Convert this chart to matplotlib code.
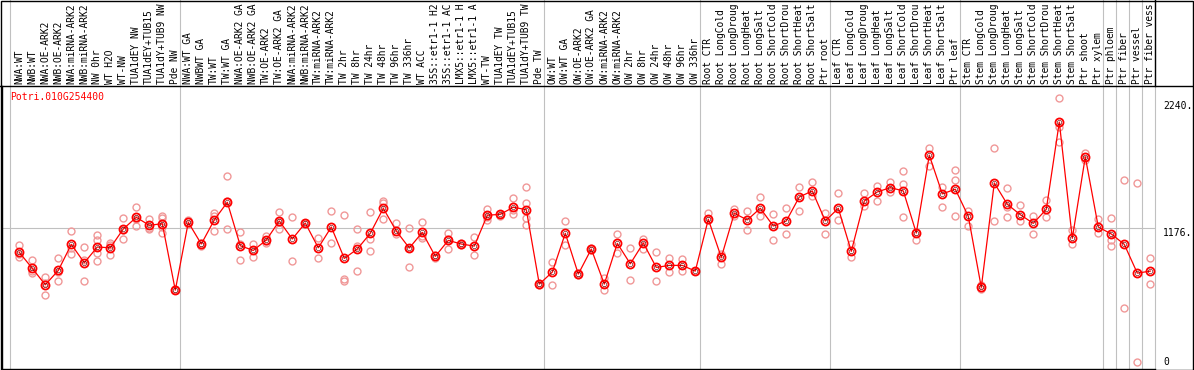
import matplotlib
matplotlib.use("Agg")
import matplotlib.pyplot as plt
from matplotlib.lines import Line2D
from matplotlib.patches import Rectangle

gene = "Potri.010G254400"

# labels as printed in the header (cut to 14 characters there)
labels = [
    "NWA:WT", "NWB:WT", "NWA:OE-ARK2", "NWB:OE-ARK2", "NWA:miRNA-ARK2",
    "NWB:miRNA-ARK2", "NW 0hr", "WT H2O", "WT-NW", "TUA1dEY NW",
    "TUA1dEY+TUB15", "TUA1dY+TUB9 NW", "Pde NW",
    "NWA:WT GA", "NWBWT GA", "TW:WT", "TW:WT GA", "NWA:OE-ARK2 GA",
    "NWB:OE-ARK2 GA", "TW:OE-ARK2", "TW:OE-ARK2 GA", "NWA:miRNA-ARK2",
    "NWB:miRNA-ARK2", "TW:miRNA-ARK2", "TW:miRNA-ARK2", "TW 2hr", "TW 8hr",
    "TW 24hr", "TW 48hr", "TW 96hr", "TW 336hr", "WT ACC", "35S::etr1-1 H2",
    "35S::etr1-1 AC", "LMX5::etr1-1 H", "LMX5::etr1-1 A", "WT-TW",
    "TUA1dEY TW", "TUA1dEY+TUB15", "TUA1dY+TUB9 TW", "Pde TW",
    "OW:WT", "OW:WT GA", "OW:OE-ARK2", "OW:OE-ARK2 GA", "OW:miRNA-ARK2",
    "OW:miRNA-ARK2", "OW 2hr", "OW 8hr", "OW 24hr", "OW 48hr", "OW 96hr",
    "OW 336hr",
    "Root CTR", "Root LongCold", "Root LongDroug", "Root LongHeat",
    "Root LongSalt", "Root ShortCold", "Root ShortDrou", "Root ShortHeat",
    "Root ShortSalt", "Ptr root",
    "Leaf CTR", "Leaf LongCold", "Leaf LongDroug", "Leaf LongHeat",
    "Leaf LongSalt", "Leaf ShortCold", "Leaf ShortDrou", "Leaf ShortHeat",
    "Leaf ShortSalt", "Ptr leaf",
    "Stem CTR", "Stem LongCold", "Stem LongDroug", "Stem LongHeat",
    "Stem LongSalt", "Stem ShortCold", "Stem ShortDrou", "Stem ShortHeat",
    "Stem ShortSalt", "Ptr shoot", "Ptr xylem",
    "Ptr phloem", "Ptr fiber", "Ptr vessel", "Ptr fiber vess",
]

means = [
    960, 820, 676, 802, 1030, 869, 1007, 1000, 1165, 1267, 1197, 1211, 629,
    1223, 1033, 1244, 1399, 1018, 977, 1068, 1235, 1077, 1217, 1000, 1182,
    907, 989, 1127, 1346, 1147, 998, 1135, 925, 1065, 1033, 1015, 1285, 1293,
    1355, 1334, 682,
    787, 1127, 770, 989, 682, 1039, 860, 1042, 828, 846, 846, 796,
    1250, 916, 1302, 1244, 1346, 1191, 1235, 1445, 1498, 1235,
    1346, 969, 1410, 1489, 1527, 1498, 1129, 1811, 1472, 1513,
    1276, 653, 1568, 1381, 1290, 1214, 1337, 2101, 1083, 1796, 1182,
    1121, 1030, 778, 796,
]

reps = [
    [1024, 921, 950], [890, 776, 795], [746, 591, 690], [907, 708, 790],
    [1147, 942, 1000], [1004, 708, 895], [1112, 1068, 957, 881],
    [1039, 936, 1025], [1258, 1077, 1160], [1358, 1191, 1250],
    [1252, 1167, 1175], [1279, 1261, 1127, 1180], [629, 640],
    [1244, 1210], [1020, 1045], [1302, 1147, 1280], [1627, 1162, 1410],
    [1135, 890, 1030], [1033, 916, 985], [1106, 1040, 1060],
    [1314, 1162, 1230], [1270, 881], [1220, 1212], [1086, 907],
    [1323, 1039], [1285, 726, 711], [1162, 1012, 793], [1314, 1077, 974],
    [1413, 1395, 1250], [1217, 1120], [1171, 828, 1000], [1226, 1083, 1100],
    [940, 915], [1127, 989, 1080], [1045, 1025], [1097, 934],
    [1340, 1244, 1270], [1300, 1275], [1434, 1296, 1330],
    [1530, 1390, 1258, 1200], [690, 675],
    [872, 670], [1235, 1021], [780, 765], [1000, 980], [732, 629],
    [1121, 957], [998, 714], [1077, 986], [960, 706], [910, 790],
    [905, 800], [800],
    [1302, 1240], [855, 950], [1343, 1280], [1320, 1156], [1443, 1281],
    [1293, 1068], [1349, 1121], [1533, 1323], [1577, 1454], [1302, 1121],
    [1478, 1244], [1033, 916], [1478, 1366], [1545, 1413], [1580, 1490],
    [1674, 1559, 1267], [1068, 1140], [1878, 1717], [1536, 1355],
    [1682, 1595, 1279],
    [1325, 1191], [670, 640], [1873, 1235], [1522, 1267, 1355],
    [1373, 1237], [1279, 1118], [1419, 1273], [2314, 2057, 1925],
    [1156, 1033], [1829, 1770], [1250, 1127],
    [1261, 1068, 1018], [1595, 469], [1568, 0], [910, 679],
]

# last column of each group (gray separators)
group_ends = [12, 40, 52, 62, 72, 83, 84, 85, 86, 87]
yticks = [2240, 1176, 0]

W, H = 1194, 370
fig = plt.figure(figsize=(W / 100, H / 100), dpi=100)
fig.patch.set_facecolor("white")

left_px, right_px, top_px, bot_px = 1.5, 1155.3, 85.5, 369.0
ax = fig.add_axes([left_px / W, (H - bot_px) / H,
                   (right_px - left_px) / W, (bot_px - top_px) / H])
ax.set_xlim((left_px - 19.3) / 13, (right_px - 19.3) / 13)
ax.set_ylim((362 - bot_px) / 0.1142, (362 - top_px) / 0.1142)
ax.set_xticks([])
ax.set_yticks([])
for s in ["top", "right"]:
    ax.spines[s].set_visible(False)
for s in ["left", "bottom"]:
    ax.spines[s].set_color("black")
    ax.spines[s].set_linewidth(1.0)

head_top = 1 + top_px / (bot_px - top_px)
xt = ax.get_xaxis_transform()
gray = "#c0c0c0"

# separators
ax.plot([-0.72, -0.72], [0, head_top], color=gray, lw=0.8,
        transform=xt, clip_on=False, zorder=1)
for g in group_ends:
    ax.plot([g + 0.37, g + 0.37], [0, head_top], color=gray, lw=0.8,
            transform=xt, clip_on=False, zorder=1)
ax.axhline(yticks[1], color=gray, lw=0.8, zorder=1)

# replicates
for i, r in enumerate(reps):
    ax.plot([i] * len(r), r, "o", ms=5.0, mfc="none", mec="#f09898",
            mew=1.0, zorder=2, clip_on=False)

# means
x = list(range(len(means)))
ax.plot(x, means, "-", color="red", lw=0.9, zorder=3)
ax.plot(x, means, "o", ms=5.8, mfc="none", mec="red", mew=1.3, zorder=4)
ax.plot(x, means, "o", ms=3.2, mfc="none", mec="#600000", mew=0.4, zorder=5)

# column labels
for i, lab in enumerate(labels):
    ax.text(i, 1 + 2.0 / (bot_px - top_px), lab, transform=xt, rotation=90,
            ha="center", va="bottom", family="DejaVu Sans Mono", fontsize=6.9,
            color="black", clip_on=False)

# right scale labels
offs = {2240: 0, 1176: -3.6, 0: 0}
for v in yticks:
    lab = "0" if v == 0 else "%d." % v
    ax.annotate(lab, xy=(1, v), xycoords=("axes fraction", "data"),
                xytext=(5.5, offs[v]), textcoords="offset points",
                ha="left", va="center", family="DejaVu Sans Mono",
                fontsize=7, annotation_clip=False)

fig.text(10 / W, 1 - 97 / H, gene, color="red", family="DejaVu Sans Mono",
         fontsize=7, ha="left", va="center")

# frame and header lines
fig.add_artist(Line2D([0, 1], [1 - 85.5 / H, 1 - 85.5 / H], color="black",
                      lw=1.0, transform=fig.transFigure))
fig.add_artist(Line2D([right_px / W, right_px / W], [1 - 85.5 / H, 1],
                      color="black", lw=1.0, transform=fig.transFigure))
fig.add_artist(Rectangle((0.5 / W, 0.5 / H), (W - 1.5) / W, (H - 1.5) / H,
                         fill=False, ec="black", lw=1.0,
                         transform=fig.transFigure))

fig.savefig("out.png", dpi=100)
